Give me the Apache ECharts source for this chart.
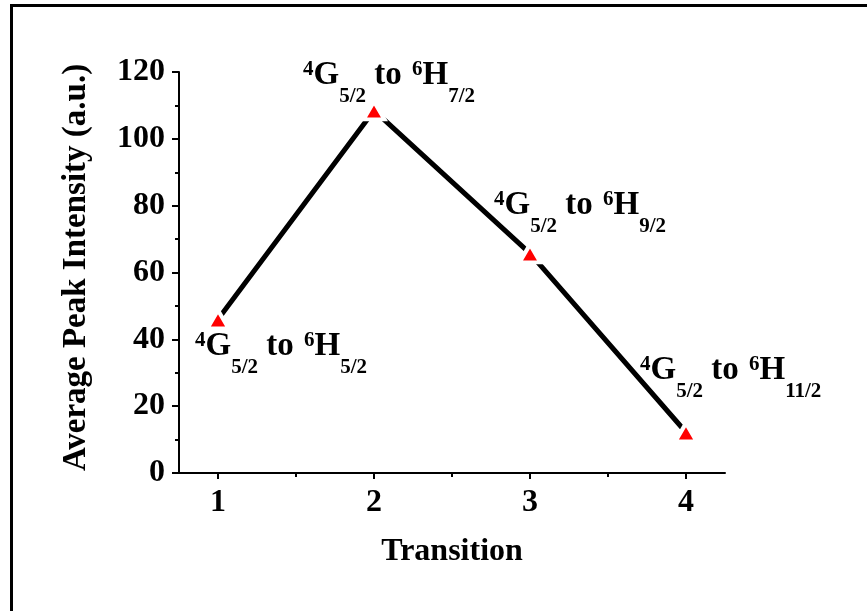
<!DOCTYPE html>
<html>
<head>
<meta charset="utf-8">
<script src="https://cdn.jsdelivr.net/npm/echarts@6/dist/echarts.min.js"></script>
<style>
  html, body { margin: 0; padding: 0; background: #fff; }
  #chart { width: 867px; height: 611px; }
</style>
</head>
<body>
<div id="chart"></div>
<script>
// data
const transitions = [1, 2, 3, 4];
const intensity = [46, 108.5, 65.7, 12.2];
const lowerLevels = ['5/2', '7/2', '9/2', '11/2'];
const xTicks = [1, 2, 3, 4];
const xMinorTicks = [1.5, 2.5, 3.5];

// label placement relative to each point (text box top-left)
const labelOffsets = [[-23, 11], [-71, -51], [-36, -64], [-46, -78]];

const chart = echarts.init(document.getElementById('chart'));
const font = '"Liberation Serif", "Times New Roman", serif';

// superscript sits at the top of the line, subscript drops to the bottom
const rich = {
  b: { fontFamily: font, fontWeight: 'bold', fontSize: 33, color: '#000', lineHeight: 33, verticalAlign: 'top' },
  sup: { fontFamily: font, fontWeight: 'bold', fontSize: 21, color: '#000', lineHeight: 21, verticalAlign: 'top' },
  sub: { fontFamily: font, fontWeight: 'bold', fontSize: 21, color: '#000', lineHeight: 48, verticalAlign: 'bottom' },
  gap: { fontFamily: font, fontSize: 8, lineHeight: 8, verticalAlign: 'top' }
};

const pointData = transitions.map((t, i) => ({
  value: [t, intensity[i]],
  label: {
    show: true,
    position: 'inside',
    align: 'left',
    verticalAlign: 'top',
    offset: labelOffsets[i],
    formatter: '{sup|4}{b|G}{sub|5/2}{b| to }{gap| }{sup|6}{b|H}{sub|' + lowerLevels[i] + '}',
    rich: rich
  }
}));

const axisFont = { fontFamily: font, fontWeight: 'bold', fontSize: 32, color: '#000' };

chart.setOption({
  backgroundColor: '#fff',
  animation: false,
  graphic: [{
    type: 'rect',
    shape: { x: 11.5, y: 5.5, width: 900, height: 700 },
    style: { fill: 'none', stroke: '#000', lineWidth: 3 },
    z: 100
  }],
  grid: { left: 179, right: 142, top: 72, bottom: 138 },
  xAxis: [{
    type: 'value',
    min: 0.75,
    max: 4.25,
    name: 'Transition',
    nameLocation: 'middle',
    nameGap: 63,
    nameTextStyle: axisFont,
    splitLine: { show: false },
    axisLine: { onZero: false, lineStyle: { color: '#000', width: 2 } },
    axisTick: { show: true, inside: false, length: 6, customValues: xTicks, lineStyle: { color: '#000', width: 2 } },
    axisLabel: { customValues: xTicks, margin: 14, ...axisFont }
  }, {
    type: 'value',
    min: 0.75,
    max: 4.25,
    position: 'bottom',
    splitLine: { show: false },
    axisLine: { show: false },
    axisTick: { show: true, inside: false, length: 4, customValues: xMinorTicks, lineStyle: { color: '#000', width: 2 } },
    axisLabel: { show: false }
  }],
  yAxis: {
    type: 'value',
    min: 0,
    max: 120,
    interval: 20,
    name: 'Average Peak Intensity (a.u.)',
    nameLocation: 'middle',
    nameGap: 86,
    nameTextStyle: { ...axisFont, fontSize: 33, padding: [0, 0, 0, 10] },
    splitLine: { show: false },
    axisLine: { show: true, lineStyle: { color: '#000', width: 2 } },
    axisTick: { show: true, inside: false, length: 7, lineStyle: { color: '#000', width: 2 } },
    minorTick: { show: true, splitNumber: 2, length: 4, lineStyle: { color: '#000', width: 2 } },
    axisLabel: { margin: 14, ...axisFont }
  },
  series: [{
    type: 'line',
    data: pointData,
    symbol: 'triangle',
    symbolSize: [21, 18],
    showAllSymbol: true,
    lineStyle: { color: '#000', width: 5 },
    itemStyle: { color: '#ff0000', borderColor: '#fff', borderWidth: 4 },
    z: 3
  }]
});
</script>
</body>
</html>
